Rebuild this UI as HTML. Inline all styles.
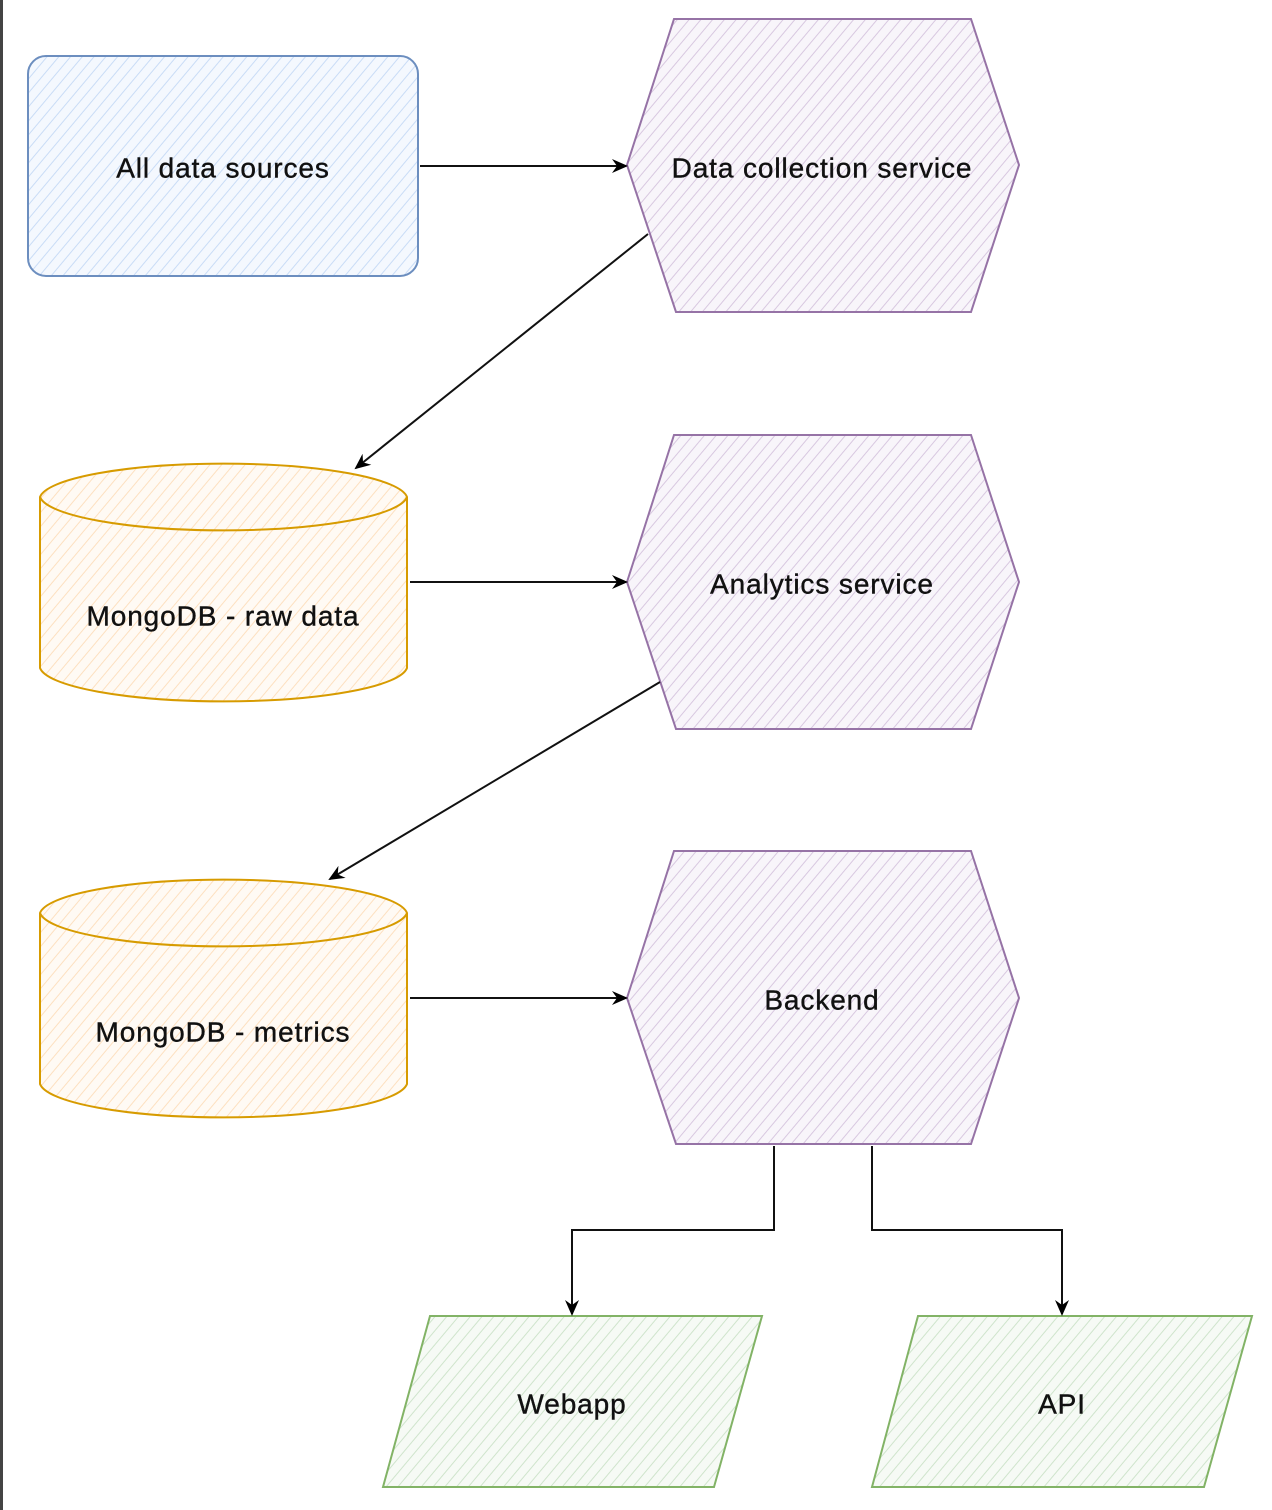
<!DOCTYPE html>
<html><head><meta charset="utf-8"><style>
html,body{margin:0;padding:0;background:#fff;}
svg{display:block;}
text{font-family:"Liberation Sans",sans-serif;font-size:28px;letter-spacing:0.9px;fill:#111;stroke:#111;stroke-width:0.4px;text-anchor:middle;dominant-baseline:middle;}
</style></head><body>
<svg width="1272" height="1510" viewBox="0 0 1272 1510" xmlns="http://www.w3.org/2000/svg">
<defs>
<pattern id="hb" width="9" height="9" patternUnits="userSpaceOnUse" patternTransform="rotate(40)"><rect width="9" height="9" fill="#f4f8fe"/><line x1="0" y1="0" x2="0" y2="9" stroke="#c9dcf6" stroke-width="2"/></pattern>
<pattern id="hp" width="9" height="9" patternUnits="userSpaceOnUse" patternTransform="rotate(40)"><rect width="9" height="9" fill="#f8f5fa"/><line x1="0" y1="0" x2="0" y2="9" stroke="#d8c8e0" stroke-width="2"/></pattern>
<pattern id="ho" width="9" height="9" patternUnits="userSpaceOnUse" patternTransform="rotate(40)"><rect width="9" height="9" fill="#fffaf4"/><line x1="0" y1="0" x2="0" y2="9" stroke="#fde0c0" stroke-width="2"/></pattern>
<pattern id="hg" width="9" height="9" patternUnits="userSpaceOnUse" patternTransform="rotate(40)"><rect width="9" height="9" fill="#f6faf5"/><line x1="0" y1="0" x2="0" y2="9" stroke="#cfe4cc" stroke-width="2"/></pattern>
<marker id="ar" markerWidth="16" markerHeight="16" refX="14" refY="8" orient="auto" markerUnits="userSpaceOnUse"><path d="M0,1 L16,8 L0,15 L5,8 Z" fill="#000"/></marker>
</defs>
<rect x="0" y="0" width="3" height="1510" fill="#444"/>

<rect x="28" y="56" width="390" height="220" rx="18" fill="url(#hb)" stroke="#6c8ebf" stroke-width="2"/>
<text x="223" y="170">All data sources</text>

<polygon points="674,19 971,19 1019,165 971,312 676,312 627,165" fill="url(#hp)" stroke="#9673a6" stroke-width="2"/>
<text x="822" y="170">Data collection service</text>
<polygon points="674,435 971,435 1019,582 971,729 676,729 627,582" fill="url(#hp)" stroke="#9673a6" stroke-width="2"/>
<text x="822" y="586">Analytics service</text>
<polygon points="674,851 971,851 1019,998 971,1144 676,1144 627,998" fill="url(#hp)" stroke="#9673a6" stroke-width="2"/>
<text x="822" y="1002">Backend</text>

<g stroke="#d79b00" stroke-width="2" fill="url(#ho)">
<path d="M40,497 A184,36 0 0 1 407,497 L407,668 A184,36 0 0 1 40,668 Z"/>
<path d="M40,497 A184,36 0 0 0 407,497" fill="none"/>
<path d="M40,913 A184,36 0 0 1 407,913 L407,1084 A184,36 0 0 1 40,1084 Z"/>
<path d="M40,913 A184,36 0 0 0 407,913" fill="none"/>
</g>
<text x="223" y="618">MongoDB - raw data</text>
<text x="223" y="1034">MongoDB - metrics</text>

<polygon points="430,1316 762,1316 714,1487 383,1487" fill="url(#hg)" stroke="#82b366" stroke-width="2"/>
<text x="572" y="1406">Webapp</text>
<polygon points="918,1316 1252,1316 1204,1487 872,1487" fill="url(#hg)" stroke="#82b366" stroke-width="2"/>
<text x="1062" y="1406">API</text>

<g stroke="#111" stroke-width="2" fill="none" marker-end="url(#ar)">
<line x1="420" y1="166" x2="626" y2="166"/>
<line x1="648" y1="234" x2="356" y2="468"/>
<line x1="410" y1="582" x2="626" y2="582"/>
<line x1="660" y1="682" x2="330" y2="879"/>
<line x1="410" y1="998" x2="626" y2="998"/>
<polyline points="774,1146 774,1230 572,1230 572,1314"/>
<polyline points="872,1146 872,1230 1062,1230 1062,1314"/>
</g>
</svg>
</body></html>
